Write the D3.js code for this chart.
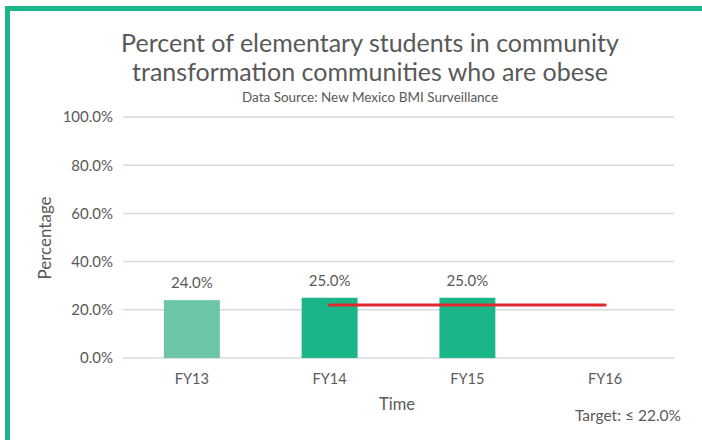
<!DOCTYPE html>
<html>
<head>
<meta charset="utf-8">
<script src="https://cdn.jsdelivr.net/npm/d3@7"></script>
<style>
  body { margin: 0; background: #fff; }
  text { font-family: Lato, "Open Sans", sans-serif; fill: #595959; }
</style>
</head>
<body>
<div id="chart"></div>
<script>
// chart data
const categories = ["FY13", "FY14", "FY15", "FY16"];
const values = [24.0, 25.0, 25.0, null];
const targetValues = [null, 22.0, 22.0, 22.0];
const yTicks = [0, 20, 40, 60, 80, 100];
const barColors = ["#6AC6A6", "#1BB58A", "#1BB58A", "#1BB58A"];

const W = 702, H = 440;
const margin = {top: 117, right: 28, bottom: 82, left: 123};
const width = W - margin.left - margin.right,
    height = H - margin.top - margin.bottom;

const svgRoot = d3.select("#chart")
  .append("svg")
    .attr("width", W)
    .attr("height", H);

// green frame (top and left)
svgRoot.append("rect").attr("x", 5).attr("y", 6).attr("width", W - 5).attr("height", 5).attr("fill", "#1BB58A");
svgRoot.append("rect").attr("x", 5).attr("y", 6).attr("width", 5).attr("height", H - 6).attr("fill", "#1BB58A");

// titles
svgRoot.append("text")
  .attr("x", 370).attr("y", 52)
  .attr("text-anchor", "middle")
  .style("font-size", "25px")
  .text("Percent of elementary students in community");
svgRoot.append("text")
  .attr("x", 370).attr("y", 81)
  .attr("text-anchor", "middle")
  .style("font-size", "25px")
  .text("transformation communities who are obese");
svgRoot.append("text")
  .attr("x", 370).attr("y", 102)
  .attr("text-anchor", "middle")
  .style("font-size", "13.5px")
  .text("Data Source: New Mexico BMI Surveillance");

const svg = svgRoot.append("g")
  .attr("transform", `translate(${margin.left}, ${margin.top})`);

const x = d3.scaleBand()
  .domain(categories)
  .range([0, width])
  .paddingInner(0.594)
  .paddingOuter(0.297);

const xc = d => x(d) + x.bandwidth() / 2;

const y = d3.scaleLinear()
  .domain([0, 100])
  .range([height, 0]);

// gridlines
svg.selectAll(".grid")
  .data(yTicks)
  .join("line")
    .attr("class", "grid")
    .attr("x1", 0).attr("x2", width)
    .attr("y1", d => y(d)).attr("y2", d => y(d))
    .attr("stroke", "#D9D9D9")
    .attr("stroke-width", 1.5);

// y axis labels
const yAxis = svg.append("g")
  .call(d3.axisLeft(y).tickValues(yTicks).tickSize(0).tickPadding(10).tickFormat(d => d.toFixed(1) + "%"));
yAxis.select(".domain").remove();
yAxis.selectAll("text").style("font-size", "15px").attr("fill", "#595959");

// x axis labels
const xAxis = svg.append("g")
  .attr("transform", `translate(0, ${height})`)
  .call(d3.axisBottom(x).tickSize(0).tickPadding(16));
xAxis.select(".domain").remove();
xAxis.selectAll("text").style("font-size", "14.5px").attr("fill", "#595959");

// bars
const barData = categories.map((c, i) => ({cat: c, v: values[i], color: barColors[i]})).filter(d => d.v != null);
svg.selectAll(".bar")
  .data(barData)
  .join("rect")
    .attr("class", "bar")
    .attr("x", d => x(d.cat))
    .attr("y", d => y(d.v))
    .attr("width", x.bandwidth())
    .attr("height", d => y(0) - y(d.v))
    .attr("fill", d => d.color);

// bar labels
svg.selectAll(".lbl")
  .data(barData)
  .join("text")
    .attr("class", "lbl")
    .attr("x", d => xc(d.cat))
    .attr("y", d => y(d.v) - 12)
    .attr("text-anchor", "middle")
    .style("font-size", "15px")
    .text(d => d.v.toFixed(1) + "%");

// target line
const targetData = categories.map((c, i) => ({cat: c, v: targetValues[i]})).filter(d => d.v != null);
svg.append("path")
  .datum(targetData)
  .attr("fill", "none")
  .attr("stroke", "#E0282E")
  .attr("stroke-width", 3)
  .attr("stroke-linecap", "round")
  .attr("d", d3.line().x(d => xc(d.cat)).y(d => y(d.v)));

// axis titles
svgRoot.append("text")
  .attr("transform", "translate(51, 238) rotate(-90)")
  .attr("text-anchor", "middle")
  .style("font-size", "17px")
  .text("Percentage");
svgRoot.append("text")
  .attr("x", 397).attr("y", 410)
  .attr("text-anchor", "middle")
  .style("font-size", "16.5px")
  .text("Time");
svgRoot.append("text")
  .attr("x", 681).attr("y", 421)
  .attr("text-anchor", "end")
  .style("font-size", "15.5px")
  .text("Target: \u2264 22.0%");
</script>
</body>
</html>
